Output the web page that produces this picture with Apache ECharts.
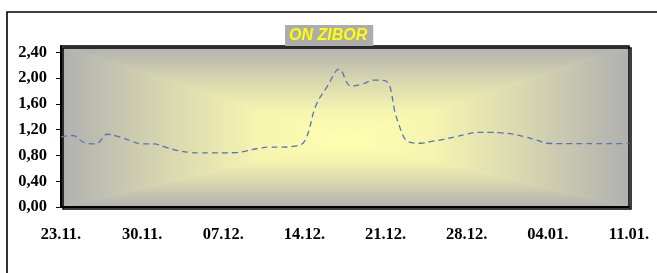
<!DOCTYPE html>
<html>
<head>
<meta charset="utf-8">
<script src="https://cdn.jsdelivr.net/npm/echarts@6/dist/echarts.min.js"></script>
<style>
  html, body { margin: 0; padding: 0; background: #fff; }
  #chart { width: 657px; height: 273px; }
</style>
</head>
<body>
<div id="chart"></div>
<script>
// dani (23.11. - 11.01.)
var days = [
  '23.11.', '24.11.', '25.11.', '26.11.', '27.11.', '28.11.', '29.11.',
  '30.11.', '01.12.', '02.12.', '03.12.', '04.12.', '05.12.', '06.12.',
  '07.12.', '08.12.', '09.12.', '10.12.', '11.12.', '12.12.', '13.12.',
  '14.12.', '15.12.', '16.12.', '17.12.', '18.12.', '19.12.', '20.12.',
  '21.12.', '22.12.', '23.12.', '24.12.', '25.12.', '26.12.', '27.12.',
  '28.12.', '29.12.', '30.12.', '31.12.', '01.01.', '02.01.', '03.01.',
  '04.01.', '05.01.', '06.01.', '07.01.', '08.01.', '09.01.', '10.01.',
  '11.01.'
];

// ON ZIBOR (%)
var zibor = [
  1.09, 1.11, 1.00, 0.98, 1.13, 1.09, 1.03,
  0.98, 0.98, 0.93, 0.88, 0.85, 0.84, 0.84,
  0.84, 0.845, 0.87, 0.91, 0.93, 0.93, 0.94,
  1.02, 1.58, 1.88, 2.14, 1.88, 1.91, 1.97,
  1.96, 1.36, 1.01, 0.99, 1.02, 1.05, 1.09,
  1.13, 1.16, 1.16, 1.15, 1.13, 1.09, 1.04,
  0.99, 0.985, 0.985, 0.985, 0.985, 0.985, 0.985,
  0.985
];

var yTicks = [0, 0.4, 0.8, 1.2, 1.6, 2.0, 2.4];

var chart = echarts.init(document.getElementById('chart'));

// podrucje grafa
var L = 61, T = 46, R = 629, B = 207;
var cx = 345, cy = 140;

// gradijent od sredine (pravokutni) - 4 trokuta
function grad(x1, y1, x2, y2) {
  return {
    type: 'linear', x: x1, y: y1, x2: x2, y2: y2, global: true,
    colorStops: [
      { offset: 0, color: '#B0B0B0' },
      { offset: 0.35, color: '#D6D5B0' },
      { offset: 0.7, color: '#F6F5B0' },
      { offset: 1, color: '#FFFFB0' }
    ]
  };
}
function tri(pts, g) {
  return {
    type: 'polygon',
    shape: { points: pts },
    style: { fill: g, stroke: g, lineWidth: 0.6 },
    z: -10,
    silent: true
  };
}

var option = {
  animation: false,
  title: {
    text: 'ON ZIBOR',
    left: 285,
    top: 25,
    padding: [3, 6, 2, 4],
    backgroundColor: '#ADADAD',
    textStyle: {
      color: '#FFFF00',
      fontFamily: 'Liberation Sans',
      fontStyle: 'italic',
      fontWeight: 'bold',
      fontSize: 16,
      lineHeight: 16
    },
    z: 10
  },
  graphic: [
    // vanjski okvir
    {
      type: 'rect',
      shape: { x: 7, y: 12, width: 700, height: 300 },
      style: { fill: 'none', stroke: '#000', lineWidth: 1.6 },
      silent: true
    },
    tri([[L, T], [R, T], [cx, cy]], grad(cx, T, cx, cy)),
    tri([[L, B], [R, B], [cx, cy]], grad(cx, B, cx, cy)),
    tri([[L, T], [L, B], [cx, cy]], grad(L, cy, cx, cy)),
    tri([[R, T], [R, B], [cx, cy]], grad(R, cy, cx, cy))
  ],
  grid: {
    left: L,
    top: T,
    right: 657 - R,
    bottom: 273 - B,
    show: true,
    backgroundColor: 'transparent',
    borderColor: '#000',
    borderWidth: 1.5,
    shadowColor: '#000',
    shadowOffsetX: 2,
    shadowOffsetY: 2,
    shadowBlur: 0
  },
  xAxis: {
    type: 'category',
    data: days,
    boundaryGap: false,
    axisLine: { lineStyle: { color: '#000', width: 2 } },
    axisTick: { show: false },
    axisLabel: {
      interval: 6,
      margin: 19,
      color: '#000',
      fontFamily: 'Liberation Serif',
      fontWeight: 'bold',
      fontSize: 16.5
    },
    splitLine: { show: false }
  },
  yAxis: {
    type: 'value',
    min: 0,
    max: 2.5,
    axisLine: { show: true, lineStyle: { color: '#000', width: 2 } },
    axisTick: {
      show: true,
      length: 5,
      customValues: yTicks,
      lineStyle: { color: '#000' }
    },
    axisLabel: {
      customValues: yTicks,
      margin: 14,
      color: '#000',
      fontFamily: 'Liberation Serif',
      fontWeight: 'bold',
      fontSize: 16.5,
      formatter: function (v) { return v.toFixed(2).replace('.', ','); }
    },
    splitLine: { show: false }
  },
  series: [
    {
      type: 'line',
      data: zibor,
      smooth: 0.4,
      symbol: 'none',
      lineStyle: { color: '#5B72B5', width: 1.3, type: [6, 4] }
    }
  ]
};

chart.setOption(option);
</script>
</body>
</html>
